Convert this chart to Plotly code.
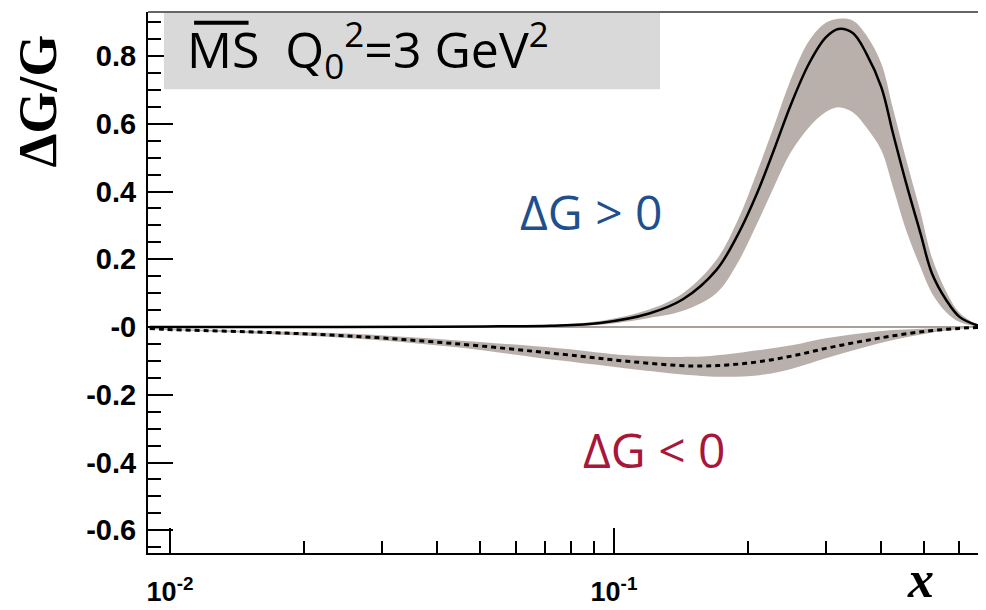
import plotly.graph_objects as go

# ---------------- data ----------------
pos_x = [0.009, 0.02, 0.04, 0.055, 0.072, 0.093, 0.12, 0.143, 0.17, 0.19, 0.21, 0.23, 0.25,
         0.275, 0.30, 0.32, 0.345, 0.37, 0.40, 0.425, 0.455, 0.49, 0.52, 0.56, 0.60, 0.655, 0.69]
pos_mid = [0.0, 0.0, 0.001, 0.002, 0.004, 0.012, 0.040, 0.082, 0.168, 0.272, 0.395, 0.528, 0.655,
           0.778, 0.855, 0.880, 0.868, 0.808, 0.708, 0.572, 0.425, 0.277, 0.159, 0.080, 0.030, 0.006, 0.0]
pos_hi = [0.0, 0.0, 0.002, 0.004, 0.007, 0.018, 0.052, 0.100, 0.198, 0.315, 0.458, 0.598, 0.730,
          0.845, 0.898, 0.910, 0.905, 0.862, 0.778, 0.645, 0.495, 0.340, 0.205, 0.105, 0.042, 0.009, 0.0]
pos_lo = [0.0, 0.0, 0.0, 0.001, 0.002, 0.007, 0.027, 0.048, 0.100, 0.190, 0.305, 0.418, 0.515,
          0.590, 0.635, 0.649, 0.634, 0.590, 0.522, 0.413, 0.286, 0.177, 0.100, 0.044, 0.015, 0.002, 0.0]

neg_x = [0.009, 0.0098, 0.015, 0.025, 0.043, 0.076, 0.107, 0.15, 0.18, 0.213, 0.253, 0.30,
         0.358, 0.425, 0.507, 0.60, 0.69]
neg_mid = [-0.004, -0.007, -0.014, -0.026, -0.048, -0.080, -0.101, -0.115, -0.112, -0.102, -0.085,
           -0.063, -0.043, -0.026, -0.012, -0.004, 0.0]
neg_hi = [-0.002, -0.005, -0.011, -0.019, -0.038, -0.063, -0.083, -0.088, -0.080, -0.068, -0.053,
          -0.033, -0.019, -0.009, -0.004, -0.001, 0.0]
neg_lo = [-0.006, -0.009, -0.018, -0.032, -0.058, -0.099, -0.122, -0.142, -0.147, -0.142, -0.122,
          -0.092, -0.063, -0.038, -0.019, -0.006, 0.0]

y_ticks = [-0.6, -0.4, -0.2, 0.0, 0.2, 0.4, 0.6, 0.8]
y_ticktext = ["-0.6", "-0.4", "-0.2", "-0", "0.2", "0.4", "0.6", "0.8"]
x_ticks = [0.01, 0.1]
x_ticktext = ["10<sup>-2</sup>", "10<sup>-1</sup>"]
x_minor = [0.02, 0.03, 0.04, 0.05, 0.06, 0.07, 0.08, 0.09, 0.2, 0.3, 0.4, 0.5, 0.6]

BAND = "#b9b0ac"
BLUE = "#1f4f8c"
RED = "#a8173a"

fig = go.Figure()

# positive band
fig.add_trace(go.Scatter(x=pos_x, y=pos_hi, mode="lines", line=dict(width=0, shape="spline"),
                         hoverinfo="skip", showlegend=False))
fig.add_trace(go.Scatter(x=pos_x, y=pos_lo, mode="lines", line=dict(width=0, shape="spline"),
                         fill="tonexty", fillcolor=BAND, hoverinfo="skip", showlegend=False))
# negative band
fig.add_trace(go.Scatter(x=neg_x, y=neg_hi, mode="lines", line=dict(width=0, shape="spline"),
                         hoverinfo="skip", showlegend=False))
fig.add_trace(go.Scatter(x=neg_x, y=neg_lo, mode="lines", line=dict(width=0, shape="spline"),
                         fill="tonexty", fillcolor=BAND, hoverinfo="skip", showlegend=False))
# central curves
fig.add_trace(go.Scatter(x=pos_x, y=pos_mid, mode="lines",
                         line=dict(color="black", width=2.5, shape="spline"), showlegend=False))
fig.add_trace(go.Scatter(x=neg_x, y=neg_mid, mode="lines",
                         line=dict(color="black", width=3, dash="5px,4px", shape="spline"),
                         showlegend=False))

ytickfont = dict(family="Liberation Sans, Arial, sans-serif", size=29, color="black", weight="bold")
xtickfont = dict(family="Liberation Sans, Arial, sans-serif", size=27, color="black", weight="bold")

fig.update_xaxes(type="log", range=[-2.0496, -0.1621],
                 tickvals=x_ticks, ticktext=x_ticktext,
                 ticks="inside", ticklen=25, tickwidth=1.5, tickcolor="black",
                 minor=dict(tickvals=x_minor, ticks="inside", ticklen=12, tickwidth=1.5, tickcolor="black"),
                 showline=True, linecolor="black", linewidth=2,
                 showgrid=False, zeroline=False,
                 tickfont=xtickfont, ticklabelstandoff=14)
fig.update_yaxes(range=[-0.667, 0.930],
                 tickvals=y_ticks, ticktext=y_ticktext,
                 ticks="inside", ticklen=25, tickwidth=1.5, tickcolor="black",
                 minor=dict(dtick=0.05, tick0=0, ticks="inside", ticklen=13, tickwidth=1.5, tickcolor="black"),
                 showline=True, linecolor="black", linewidth=2,
                 showgrid=False, zeroline=True, zerolinecolor="#a9a09b", zerolinewidth=1.5,
                 tickfont=ytickfont, ticklabelstandoff=4)

# the page body has an 8px margin, so the figure is offset by (8, 8)
fig.update_layout(
    width=978, height=602,
    margin=dict(l=140, r=0, t=4, b=57),
    paper_bgcolor="white", plot_bgcolor="white",
    shapes=[
        # top frame line
        dict(type="line", xref="paper", yref="paper", x0=0, x1=1, y0=1, y1=1,
             line=dict(color="#333333", width=1.5), layer="above"),
        # grey label box
        dict(type="rect", xref="paper", yref="paper", x0=0.019, x1=0.611, y0=0.857, y1=0.998,
             fillcolor="#d9d9d9", line=dict(width=0), layer="above"),
        # overline over MS
        dict(type="line", xref="paper", yref="paper", x0=0.055, x1=0.120, y0=0.980, y1=0.980,
             line=dict(color="black", width=4), layer="above"),
    ],
    annotations=[
        dict(text="MS  Q<sub>0</sub><sup>2</sup>=3 GeV<sup>2</sup>", xref="paper", yref="paper",
             x=0.044, y=0.930, xanchor="left", yanchor="middle", showarrow=False,
             font=dict(family="Open Sans, sans-serif", size=50, color="black")),
        dict(text="ΔG > 0", xref="paper", yref="paper", x=0.529, y=0.632,
             xanchor="center", yanchor="middle", showarrow=False,
             font=dict(family="Open Sans, sans-serif", size=48, color=BLUE)),
        dict(text="ΔG < 0", xref="paper", yref="paper", x=0.604, y=0.192,
             xanchor="center", yanchor="middle", showarrow=False,
             font=dict(family="Open Sans, sans-serif", size=48, color=RED)),
        dict(text="<b>ΔG/G</b>", xref="paper", yref="paper", x=-0.131, y=0.835,
             xanchor="center", yanchor="middle", textangle=-90, showarrow=False,
             font=dict(family="Liberation Serif, Times New Roman, serif", size=54, color="black")),
        dict(text="<b><i>x</i></b>", xref="paper", yref="paper", x=0.922, y=-0.1035,
             xanchor="center", yanchor="bottom", showarrow=False, borderpad=0,
             font=dict(family="Liberation Serif, Times New Roman, serif", size=52, color="black")),
    ],
)

fig.write_html("out.html")
